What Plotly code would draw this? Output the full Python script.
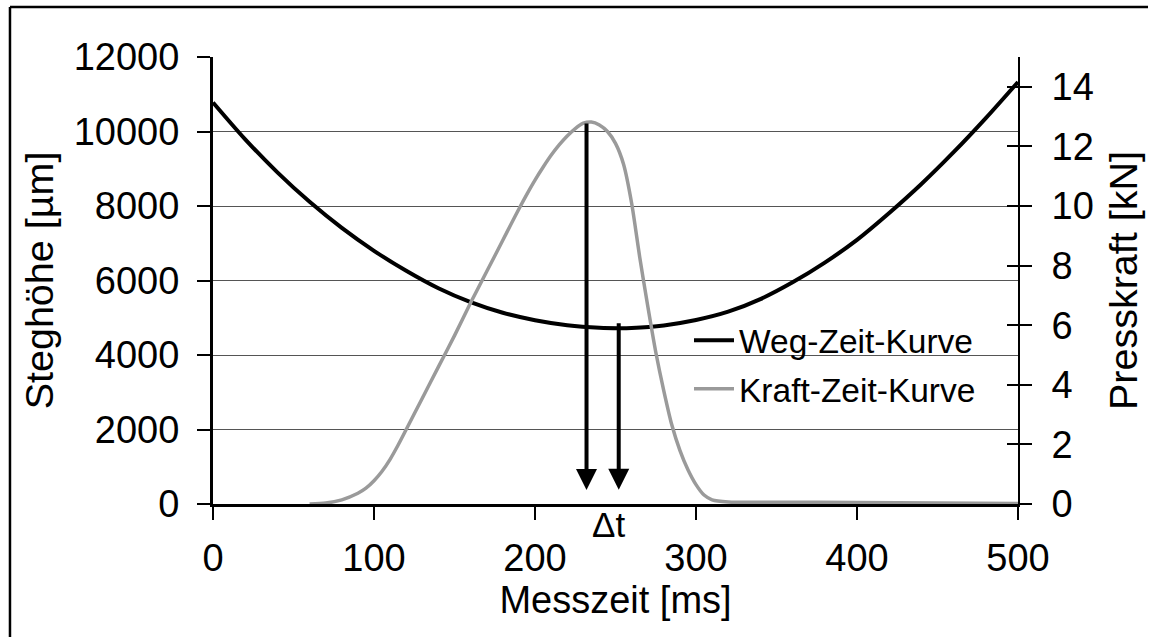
import plotly.graph_objects as go

# Weg-Zeit-Kurve: Steghöhe [µm] über Messzeit [ms]
t_weg_ms = [0, 20, 40, 60, 80, 100, 120, 140, 160, 180, 200, 220, 240, 252,
            260, 280, 300, 320, 340, 360, 380, 400, 420, 440, 460, 480, 500]
steghoehe_um = [10780, 9790, 8904, 8112, 7412, 6797, 6260, 5791, 5418, 5134,
                4934, 4800, 4731, 4720, 4726, 4794, 4939, 5162, 5500, 5950,
                6480, 7090, 7811, 8590, 9444, 10360, 11330]

# Kraft-Zeit-Kurve: Presskraft [kN] über Messzeit [ms]
t_kraft_ms = [60, 70, 80, 90, 95, 100, 105, 110, 115, 120, 130, 140, 150, 160,
              170, 180, 185, 190, 195, 200, 205, 210, 215, 220, 225, 230, 235,
              240, 245, 250, 255, 260, 265, 270, 275, 280, 285, 290, 295, 300,
              305, 310, 320, 350, 400, 450, 500]
presskraft_kn = [0.0, 0.03, 0.14, 0.36, 0.53, 0.78, 1.1, 1.5, 1.98, 2.5, 3.55,
                 4.6, 5.65, 6.75, 7.8, 8.85, 9.38, 9.9, 10.4, 10.87, 11.3,
                 11.7, 12.05, 12.35, 12.6, 12.78, 12.82, 12.72, 12.5, 12.1,
                 11.4, 10.1, 8.3, 6.65, 5.1, 3.8, 2.65, 1.8, 1.15, 0.65, 0.3,
                 0.14, 0.07, 0.06, 0.05, 0.03, 0.02]

# Achsenbeschriftung
x_ticks = [0, 100, 200, 300, 400, 500]
y_left_ticks = [0, 2000, 4000, 6000, 8000, 10000, 12000]
y_right_ticks = [0, 2, 4, 6, 8, 10, 12, 14]

# Δt: Kraftmaximum und Wegminimum
dt_times_ms = [232, 252]
dt_arrow_tip_um = 380
dt_arrow_tip_kn = 0.47
weg_arrow_tail_um = 4894

FONT = "Liberation Sans, Arial, sans-serif"

fig = go.Figure()

fig.add_trace(go.Scatter(
    x=t_weg_ms, y=steghoehe_um, mode="lines", name="Weg-Zeit-Kurve",
    legendgroup="weg",
    line=dict(color="black", width=4, shape="spline", smoothing=0.8),
))
fig.add_trace(go.Scatter(
    x=t_kraft_ms, y=presskraft_kn, mode="lines", name="Kraft-Zeit-Kurve",
    legendgroup="kraft", yaxis="y2",
    line=dict(color="#9a9a9a", width=3.5, shape="spline", smoothing=0.7),
))
# inner tick marks of the right axis
fig.add_trace(go.Scatter(x=[], y=[], yaxis="y3", showlegend=False, hoverinfo="skip"))

axis_common = dict(
    tickfont=dict(family=FONT, size=38, color="black"),
    tickcolor="black", tickwidth=2,
    linecolor="black", zeroline=False,
)

fig.update_layout(
    width=1159, height=637,
    margin=dict(l=213, r=141, t=57, b=133),
    plot_bgcolor="white", paper_bgcolor="white",
    font=dict(family=FONT, size=38, color="black"),
    xaxis=dict(
        range=[0, 500], tickmode="array", tickvals=x_ticks,
        ticks="outside", ticklen=13, showline=True, linewidth=3,
        showgrid=False, ticklabelstandoff=5,
        title=dict(text="Messzeit [ms]", font=dict(family=FONT, size=38), standoff=0),
        **axis_common,
    ),
    yaxis=dict(
        range=[0, 12000], tickmode="array", tickvals=y_left_ticks,
        ticktext=[str(v) for v in y_left_ticks],
        ticks="outside", ticklen=13, showline=True, linewidth=3,
        showgrid=True, gridcolor="#555555", gridwidth=1,
        ticklabelstandoff=10,
        title=dict(text="Steghöhe [µm]", font=dict(family=FONT, size=39.5), standoff=8),
        **axis_common,
    ),
    yaxis2=dict(
        overlaying="y", side="right", anchor="x",
        range=[0, 15], tickmode="array", tickvals=y_right_ticks,
        ticks="outside", ticklen=12, showline=True, linewidth=2,
        showgrid=False, ticklabelstandoff=12,
        title=dict(text="Presskraft [kN]", font=dict(family=FONT, size=39.5), standoff=16),
        **axis_common,
    ),
    yaxis3=dict(
        overlaying="y", side="right", anchor="x",
        range=[0, 15], tickmode="array", tickvals=y_right_ticks,
        ticks="inside", ticklen=11, tickwidth=2, tickcolor="black",
        showticklabels=False, showline=False, showgrid=False, zeroline=False,
    ),
    showlegend=True,
    legend=dict(
        x=0.5913, y=0.4295, xanchor="left", yanchor="top",
        bgcolor="rgba(0,0,0,0)", borderwidth=0,
        font=dict(family=FONT, size=33.5, color="black"),
        tracegroupgap=2, itemwidth=40,
    ),
)

# white legend field between gridlines and curves
fig.add_shape(type="rect", xref="paper", yref="paper",
              x0=0.5863, x1=0.9627, y0=0.2103, y1=0.4072,
              fillcolor="white", line=dict(width=0), layer="between")

# Pfeile: Kraftmaximum und Wegminimum nach unten
fig.add_annotation(
    x=dt_times_ms[0], y=dt_arrow_tip_kn, xref="x", yref="y2",
    ax=dt_times_ms[0], ay=max(presskraft_kn), axref="x", ayref="y2",
    text="", showarrow=True, arrowhead=2, arrowsize=1.05, arrowwidth=4,
    arrowcolor="black", standoff=0,
)
fig.add_annotation(
    x=dt_times_ms[1], y=dt_arrow_tip_um, xref="x", yref="y",
    ax=dt_times_ms[1], ay=weg_arrow_tail_um, axref="x", ayref="y",
    text="", showarrow=True, arrowhead=2, arrowsize=1.05, arrowwidth=4,
    arrowcolor="black", standoff=0,
)
fig.add_annotation(
    x=(dt_times_ms[0] + dt_times_ms[1]) / 2, y=-0.046, xref="x", yref="paper",
    text="Δt", showarrow=False, yanchor="middle", xanchor="center", xshift=6,
    font=dict(family=FONT, size=35, color="black"),
)

# Rahmen um die Grafik
frame = dict(type="line", xref="paper", yref="paper",
             line=dict(color="black", width=2.5), layer="above")
fig.add_shape(x0=-0.2522, x1=-0.2522, y0=1.1119, y1=-0.31, **frame)
fig.add_shape(x0=-0.2522, x1=1.1615, y0=1.1119, y1=1.1119, **frame)

fig.write_html("out.html")
